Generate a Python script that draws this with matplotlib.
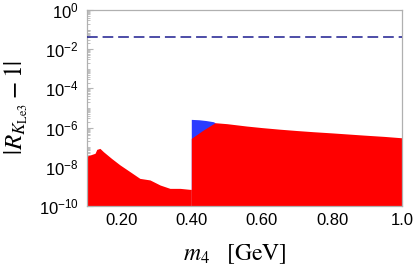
import matplotlib
matplotlib.use("Agg")
import matplotlib.pyplot as plt
from matplotlib.ticker import FixedLocator, FixedFormatter
import numpy as np

plt.rcParams['font.family'] = ['Liberation Sans', 'DejaVu Sans']

# upper envelope of the red scatter, log10 of |R - 1|
m_left = [0.100, 0.123, 0.128, 0.137, 0.147, 0.170, 0.194, 0.223, 0.251, 0.280, 0.309, 0.337, 0.366, 0.394, 0.398]
top_left = [-7.45, -7.31, -7.11, -7.06, -7.23, -7.57, -7.90, -8.25, -8.59, -8.67, -8.93, -9.10, -9.10, -9.15, -9.15]

m_right = [0.398, 0.43, 0.466, 0.50, 0.556, 0.60, 0.65, 0.70, 0.747, 0.80, 0.889, 0.95, 1.0]
top_right = [-6.55, -6.15, -5.75, -5.80, -5.92, -6.00, -6.08, -6.15, -6.21, -6.27, -6.38, -6.45, -6.52]

# blue points sitting on top of the red region just above 0.4 GeV
m_blue = [0.398, 0.42, 0.44, 0.461, 0.466]
top_blue = [-5.58, -5.60, -5.64, -5.70, -5.75]

bound = 0.04  # dashed experimental line

fig = plt.figure(figsize=(4.15, 2.68), dpi=100)
ax = fig.add_axes([0.2096, 0.2313, 0.7591, 0.7314])

ymin = 1e-10
ax.fill_between(m_blue, ymin, 10 ** np.array(top_blue), color='#2b3cff', lw=0, zorder=1)
ax.fill_between(m_left, ymin, 10 ** np.array(top_left), color='#ff0000', lw=0, zorder=2)
ax.fill_between(m_right, ymin, 10 ** np.array(top_right), color='#ff0000', lw=0, zorder=2)
ax.axhline(bound, color='#1c1c8f', lw=1.1, dashes=(7, 3.2), zorder=3)

ax.set_yscale('log')
ax.set_xlim(0.1, 1.0)
ax.set_ylim(1e-10, 1)

yt = [1e0, 1e-2, 1e-4, 1e-6, 1e-8, 1e-10]
ax.yaxis.set_major_locator(FixedLocator(yt))
ax.yaxis.set_major_formatter(FixedFormatter([r'$\mathregular{10^{%d}}$' % e for e in [0, -2, -4, -6, -8, -10]]))
minor = []
for e in range(-10, 0):
    for k in range(1, 10):
        v = k * 10.0 ** e
        if v not in yt:
            minor.append(v)
ax.yaxis.set_minor_locator(FixedLocator(minor))
ax.yaxis.set_minor_formatter(FixedFormatter([''] * len(minor)))

ax.xaxis.set_major_locator(FixedLocator([0.2, 0.4, 0.6, 0.8, 1.0]))
ax.xaxis.set_major_formatter(FixedFormatter(['0.20', '0.40', '0.60', '0.80', '1.0']))
ax.xaxis.set_minor_locator(FixedLocator(np.arange(0.1, 1.0, 0.05)))

ax.set_axisbelow(True)
ax.tick_params(which='both', direction='in', color='#b5b5b5', labelsize=12, labelcolor='black')
ax.tick_params(which='major', length=4, width=0.8)
ax.tick_params(which='minor', length=2, width=0.6)
ax.tick_params(axis='x', pad=5)
ax.tick_params(axis='y', pad=6)
for s in ax.spines.values():
    s.set_color('#b0b0b0')
    s.set_linewidth(0.9)

ax.set_xlabel(r'$m_4\ \ \ [\mathrm{GeV}]$', fontsize=17, math_fontfamily='stix')
ax.xaxis.set_label_coords(0.47, -0.185)
ax.set_ylabel(r'$|R_{K_{\mathrm{Le3}}}-1|$', fontsize=18, math_fontfamily='stix')
ax.yaxis.set_label_coords(-0.18, 0.5)

fig.savefig('out.png', dpi=100)
